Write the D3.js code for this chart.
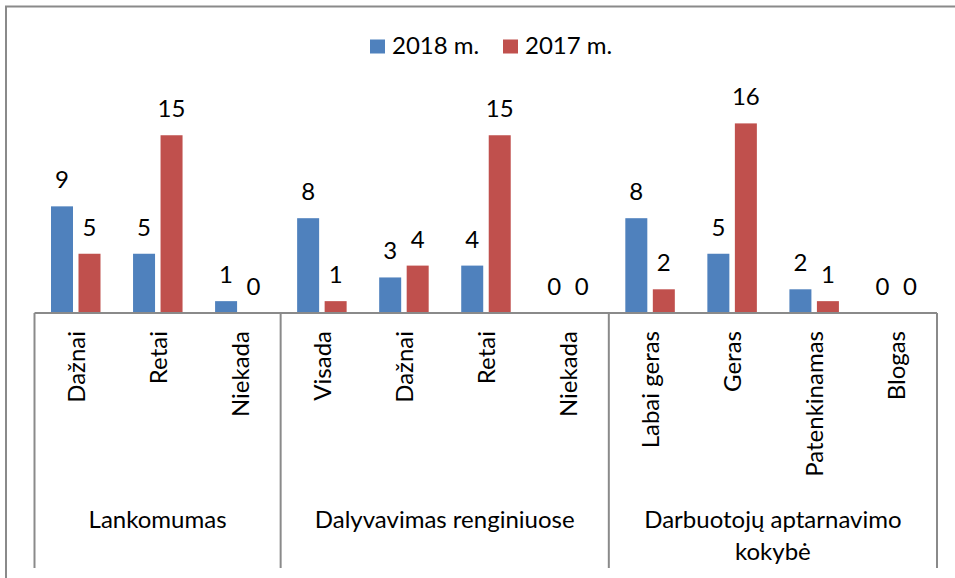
<!DOCTYPE html>
<html>
<head>
<meta charset="utf-8">
<script src="https://cdn.jsdelivr.net/npm/d3@7"></script>
<style>
  html, body { margin: 0; padding: 0; background: #fff; }
  svg { display: block; }
  text { font-family: Lato, "Open Sans", sans-serif; fill: #000; }
</style>
</head>
<body>
<svg id="chart" width="955" height="578"></svg>
<script>
// ---- data ----
const groups = ["Lankomumas", "Dalyvavimas renginiuose", "Darbuotojų aptarnavimo kokybė"];
const groupLines = [["Lankomumas"], ["Dalyvavimas renginiuose"], ["Darbuotojų aptarnavimo", "kokybė"]];
const categories = ["Dažnai", "Retai", "Niekada", "Visada", "Dažnai", "Retai", "Niekada", "Labai geras", "Geras", "Patenkinamas", "Blogas"];
const categoryGroup = [0, 0, 0, 1, 1, 1, 1, 2, 2, 2, 2];
const seriesNames = ["2018 m.", "2017 m."];
const values2018 = [9, 5, 1, 8, 3, 4, 0, 8, 5, 2, 0];
const values2017 = [5, 15, 0, 1, 4, 15, 0, 2, 16, 1, 0];
const seriesColors = ["#4F81BD", "#C0504D"];

const svg = d3.select("#chart");
const FS = 24;

// chart border (extends past right/bottom edge as in reference)
svg.append("path")
  .attr("d", "M6,600 L6,6.5 L1000,6.5")
  .attr("fill", "none").attr("stroke", "#8a8a8a").attr("stroke-width", 2);

const idx = d3.range(categories.length);
const x = d3.scaleBand().domain(idx).range([34.5, 937]).paddingInner(0).paddingOuter(0);
const xs = d3.scaleBand().domain([0, 1]).range([16.5, 66]).paddingInner(0.2).paddingOuter(0);
const y = d3.scaleLinear().domain([0, 20]).range([313, 76]);

const data = idx.map(i => ({ i, vals: [values2018[i], values2017[i]] }));

const catG = svg.append("g").selectAll("g").data(data).join("g")
  .attr("transform", d => `translate(${x(d.i)},0)`);

catG.selectAll("rect").data(d => d.vals.map((v, s) => ({ v, s }))).join("rect")
  .attr("x", d => xs(d.s))
  .attr("width", xs.bandwidth())
  .attr("y", d => y(d.v))
  .attr("height", d => y(0) - y(d.v))
  .attr("fill", d => seriesColors[d.s]);

catG.selectAll("text.val").data(d => d.vals.map((v, s) => ({ v, s }))).join("text")
  .attr("class", "val")
  .attr("x", d => xs(d.s) + xs.bandwidth() / 2)
  .attr("y", d => y(d.v) - 18)
  .attr("text-anchor", "middle")
  .attr("font-size", FS)
  .text(d => d.v);

// axis line
const axisG = svg.append("g").attr("transform", `translate(0,${y(0)})`);
axisG.call(d3.axisBottom(x).tickSize(0).tickFormat(""));
axisG.select(".domain").attr("stroke", "#8a8a8a").attr("stroke-width", 2).attr("d", `M${x.range()[0]},0H${x.range()[1]}`);

// group separators
const boundaries = [0];
categoryGroup.forEach((g, i) => { if (i === categoryGroup.length - 1 || categoryGroup[i + 1] !== g) boundaries.push(i + 1); });
const bx = b => b < categories.length ? x(b) : x.range()[1];
svg.append("g").selectAll("line").data(boundaries).join("line")
  .attr("x1", b => bx(b)).attr("x2", b => bx(b))
  .attr("y1", y(0)).attr("y2", 568)
  .attr("stroke", "#8a8a8a").attr("stroke-width", 2);

// category labels (rotated)
svg.append("g").selectAll("text").data(idx).join("text")
  .attr("transform", i => `translate(${x(i) + x.bandwidth() / 2 + 1},331) rotate(-90)`)
  .attr("text-anchor", "end")
  .attr("dy", "0.35em")
  .attr("font-size", FS)
  .text(i => categories[i]);

// group labels
groups.forEach((g, gi) => {
  const b0 = bx(boundaries[gi]), b1 = bx(boundaries[gi + 1]);
  const t = svg.append("text").attr("x", (b0 + b1) / 2).attr("y", 528)
    .attr("text-anchor", "middle").attr("font-size", FS);
  groupLines[gi].forEach((line, li) => {
    t.append("tspan").attr("x", (b0 + b1) / 2).attr("dy", li === 0 ? 0 : 32).text(line);
  });
});

// legend
const legX = [370, 503];
const leg = svg.append("g").selectAll("g").data(seriesNames).join("g")
  .attr("transform", (d, i) => `translate(${legX[i]},0)`);
leg.append("rect").attr("x", 0).attr("y", 39.5).attr("width", 15).attr("height", 14)
  .attr("fill", (d, i) => seriesColors[i]);
leg.append("text").attr("x", 22).attr("y", 54).attr("font-size", FS).text(d => d);
</script>
</body>
</html>
